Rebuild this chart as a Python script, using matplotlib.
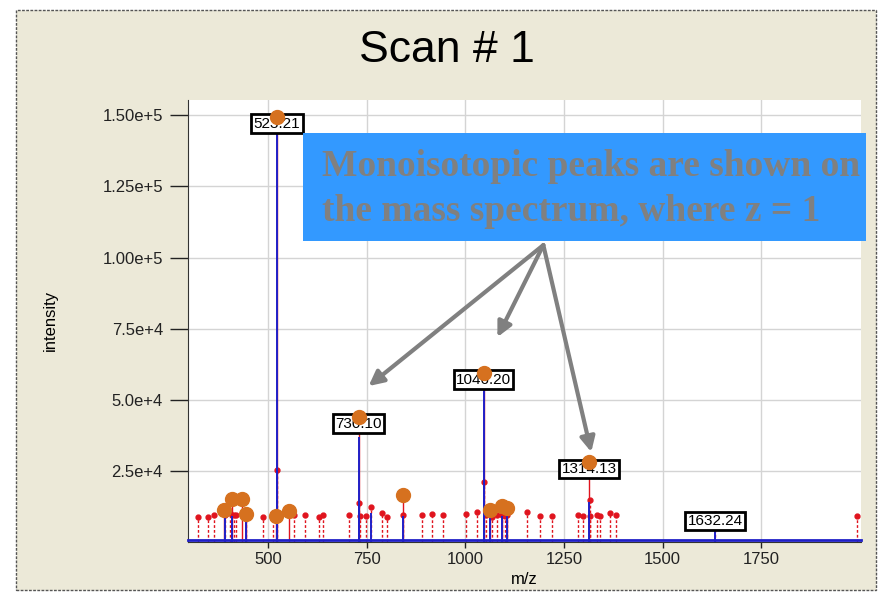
import matplotlib
matplotlib.use('Agg')
import matplotlib.pyplot as plt
from matplotlib.patches import Rectangle

# peak list (red dashed stems with dot markers)
red_mz = [323.8, 347.6, 362.7, 392, 404.7, 414.8, 419, 446, 489, 513.4, 524.2,
          566.5, 594.3, 629.7, 639.8, 705.5, 731.1, 732.6, 747.7, 760.4, 789,
          802.6, 843, 889.3, 916.3, 943.2, 1002.3, 1030, 1047.2, 1053.6, 1068,
          1080.6, 1093.3, 1101.6, 1106, 1156.5, 1190, 1219.7, 1284.4, 1298,
          1315.1, 1316.5, 1333.4, 1341.8, 1367, 1382.2, 1633, 1993]
red_int = [8800, 8800, 9400, 9400, 10000, 9400, 9400, 9400, 8800, 10000, 25200,
           9400, 9400, 8800, 9400, 9400, 13750, 9070, 9070, 12100, 10000,
           8800, 9400, 9400, 9780, 9400, 9780, 10600, 21000, 9400, 8800,
           9400, 9400, 9070, 9400, 10600, 9070, 9070, 9420, 9070,
           14700, 9070, 9420, 9070, 10000, 9420, 9780, 9070]

# profile spectrum peaks (blue)
blue_mz = [392, 409, 446, 523.21, 524.2, 730.10, 731.1, 760.4, 842, 1046.20,
           1047.2, 1063.7, 1094, 1106, 1314.13, 1633]
blue_int = [11000, 9000, 9500, 145500, 25000, 36900, 13000, 10000, 9000, 53300,
            20000, 9000, 9000, 9000, 14000, 4000]
baseline = 500

# monoisotopic peaks (orange circles)
mono_mz = [388.8, 409, 434.3, 444.4, 520.2, 553, 523.21, 730.10, 841.3,
           1046.20, 1063.7, 1094, 1106.7, 1314.13]
mono_int = [11200, 15050, 15050, 9800, 9070, 10830, 149500, 44000, 16460,
            59500, 11200, 12600, 11900, 28000]

# labelled peaks
label_mz = [523.21, 730.10, 1046.20, 1314.13, 1633]
label_int = [149500, 44000, 59500, 28000, 9780]
label_txt = ['523.21', '730.10', '1046.20', '1314.13', '1632.24']

# arrow from note box to peaks
arrow_from = (1197.7, 104360)
arrow_to_mz = [755.3, 1081.4, 1319]
arrow_to_int = [54780, 72000, 31570]

beige = '#ECE9D8'
blue = '#2020C8'
red = '#E0141E'
orange = '#D6711F'

plt.rcParams['font.family'] = ['Liberation Sans', 'DejaVu Sans']

fig = plt.figure(figsize=(8.79, 5.93), dpi=100, facecolor='white')
# beige panel with dashed border
fig.patches.append(Rectangle((16 / 879, 1 - 590 / 593), 860 / 879, 580 / 593,
                             transform=fig.transFigure, facecolor=beige,
                             edgecolor='#555555', linestyle=(0, (2, 1)),
                             linewidth=1, zorder=-1))

ax = fig.add_axes([188 / 879, 1 - 541.8 / 593, 673 / 879, 441.8 / 593])
ax.set_facecolor('white')
ax.set_xlim(298, 2002)
ax.set_ylim(0, 155400)

ax.set_xticks([500, 750, 1000, 1250, 1500, 1750])
ax.set_yticks([25000, 50000, 75000, 100000, 125000, 150000])
ax.set_yticklabels(['2.5e+4', '5.0e+4', '7.5e+4', '1.00e+5', '1.25e+5', '1.50e+5'])
ax.grid(True, color='#D4D4D4', linewidth=1)
ax.set_axisbelow(True)
for s in ['top', 'right']:
    ax.spines[s].set_visible(False)
ax.spines['left'].set_color('#333333')
ax.spines['bottom'].set_color('#333333')
ax.tick_params(axis='y', length=13, width=1, pad=5, labelsize=12, colors='#222222')
ax.tick_params(axis='x', length=4, width=1, pad=3, labelsize=12, colors='#222222')

ax.set_xlabel('m/z', fontsize=12, labelpad=4)
ax.set_ylabel('intensity', fontsize=12, labelpad=32)

# monoisotopic stems (solid red)
ax.vlines(mono_mz, 0, mono_int, color=red, linewidth=1, zorder=2)
# peak list stems
ax.vlines(red_mz, 0, red_int, color=red, linewidth=1, linestyles=(0, (2, 1.5)), zorder=3)
ax.plot(red_mz, red_int, 'o', color=red, markersize=3.5, zorder=3)
# profile spectrum
ax.vlines(blue_mz, 0, blue_int, color=blue, linewidth=1.4, zorder=4)
ax.plot([298, 2002], [baseline, baseline], color=blue, linewidth=2, zorder=4,
        clip_on=False)

# labels
for x, y, t in zip(label_mz, label_int, label_txt):
    ax.annotate(t, (x, y), xytext=(0, -7), textcoords='offset pixels',
                ha='center', va='center', fontsize=11, zorder=5,
                bbox=dict(boxstyle='square,pad=0.15', facecolor='white',
                          edgecolor='black', linewidth=2))

ax.plot(mono_mz, mono_int, 'o', color=orange, markersize=10, zorder=6)

for x, y in zip(arrow_to_mz, arrow_to_int):
    ax.annotate('', xy=(x, y), xytext=arrow_from,
                arrowprops=dict(arrowstyle='-|>', color='#808080', lw=3,
                                mutation_scale=22, shrinkA=0, shrinkB=0),
                zorder=7, annotation_clip=False)

# note box
fig.patches.append(Rectangle((303 / 879, 1 - 241 / 593), 563 / 879, 108 / 593,
                             transform=fig.transFigure, facecolor='#3399FF',
                             edgecolor='none', zorder=5))
fig.text(322 / 879, 1 - 189 / 593,
         'Monoisotopic peaks are shown on\nthe mass spectrum, where z = 1',
         fontsize=27, color='#808080', family='Liberation Serif', weight='bold',
         ha='left', va='center', linespacing=1.35, zorder=6)

fig.suptitle('Scan # 1', x=447 / 879, y=1 - 50 / 593, va='center', fontsize=32)

fig.savefig('out.png', dpi=100, facecolor='white')
